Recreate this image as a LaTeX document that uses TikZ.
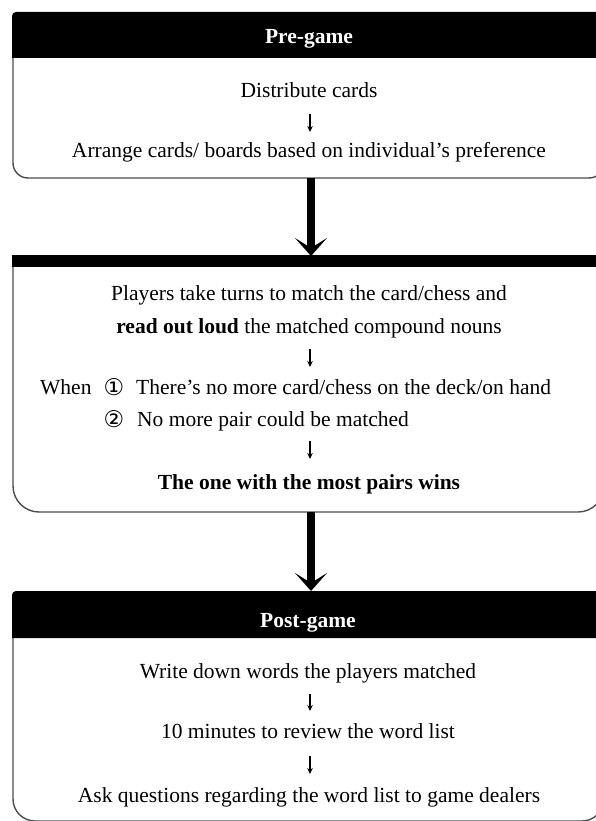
\documentclass[tikz,border=0pt]{standalone}
\usepackage{fontspec}
\setmainfont{Liberation Serif}
\newfontfamily\symfont{DejaVu Sans}
\usetikzlibrary{arrows.meta}
\begin{document}
\begin{tikzpicture}[x=1pt,y=-1pt,
  txt/.style={font=\fontsize{21.5}{25}\selectfont, inner sep=0pt, anchor=base},
  btxt/.style={font=\fontsize{21.5}{25}\selectfont\bfseries, inner sep=0pt, anchor=base},
  htxt/.style={btxt, text=white},
  ctxt/.style={font=\fontsize{23}{26}\selectfont\symfont, inner sep=0pt, anchor=base},
  frame/.style={draw=black!70, line width=1.4pt, fill=white},
  bigarrow/.style={line width=8pt, -{Stealth[length=18pt,width=32pt,inset=10pt]}},
  smallarrow/.style={line width=1.2pt, -{Stealth[length=6pt,width=5.5pt]}}]
\useasboundingbox (0,0) rectangle (596,821);
\fill[white] (0,0) rectangle (596,821);

% ---------- Box 1 ----------
\draw[frame] (13,40) [rounded corners=15pt] -- (13,178) -- (604,178) [sharp corners] -- (604,40);
\fill[black] (12,58) [rounded corners=4pt] -- (12,12) -- (606,12) [sharp corners] -- (606,58) -- cycle;
\node[htxt] (h1) at (309,44) {Pre-game};
\node[txt] (t11) at (309,98) {Distribute cards};
\coordinate (a1s) at (310,114); \coordinate (a1e) at (310,132);
\draw[smallarrow] (a1s) -- (a1e);
\node[txt] (t12) at (309,158) {Arrange cards/ boards based on individual’s preference};

% ---------- Big arrow 1 ----------
\coordinate (b1bot) at (311,178);
\coordinate (b2top) at (311,256);

% ---------- Box 2 ----------
\draw[frame] (13,262) [rounded corners=26pt] -- (13,512) -- (604,512) [sharp corners] -- (604,262);
\fill[black] (12,255) rectangle (606,267);
\node[txt] (t21) at (309,300) {Players take turns to match the card/chess and};
\node[txt] (t22) at (309,333) {{\bfseries read out loud} the matched compound nouns};
\coordinate (a2s) at (310,349); \coordinate (a2e) at (310,367);
\draw[smallarrow] (a2s) -- (a2e);
\node[txt, anchor=base west] (t23) at (40,394) {When};
\node[ctxt] (c1) at (114,395) {①};
\node[txt, anchor=base west] (t24) at (136,394) {There’s no more card/chess on the deck/on hand};
\node[ctxt] (c2) at (114,427) {②};
\node[txt, anchor=base west] (t25) at (137,426) {No more pair could be matched};
\coordinate (a3s) at (310,441); \coordinate (a3e) at (310,459);
\draw[smallarrow] (a3s) -- (a3e);
\node[btxt] (t26) at (309,489) {The one with the most pairs wins};

\coordinate (b2bot) at (311,512);
\coordinate (b3top) at (311,591);

% ---------- Box 3 ----------
\draw[frame] (13,620) [rounded corners=22pt] -- (13,821) -- (604,821) [sharp corners] -- (604,620);
\fill[black] (12,638) [rounded corners=4pt] -- (12,591) -- (606,591) [sharp corners] -- (606,638) -- cycle;
\node[htxt] (h3) at (308,627) {Post-game};
\node[txt] (t31) at (308,678) {Write down words the players matched};
\coordinate (a4s) at (310,694); \coordinate (a4e) at (310,711);
\draw[smallarrow] (a4s) -- (a4e);
\node[txt] (t32) at (308,738) {10 minutes to review the word list};
\coordinate (a5s) at (310,756); \coordinate (a5e) at (310,774);
\draw[smallarrow] (a5s) -- (a5e);
\node[txt] (t33) at (309,802) {Ask questions regarding the word list to game dealers};

% ---------- Big arrows ----------
\draw[bigarrow] (b1bot) -- (b2top);
\draw[bigarrow] (b2bot) -- (b3top);
\end{tikzpicture}
\end{document}
